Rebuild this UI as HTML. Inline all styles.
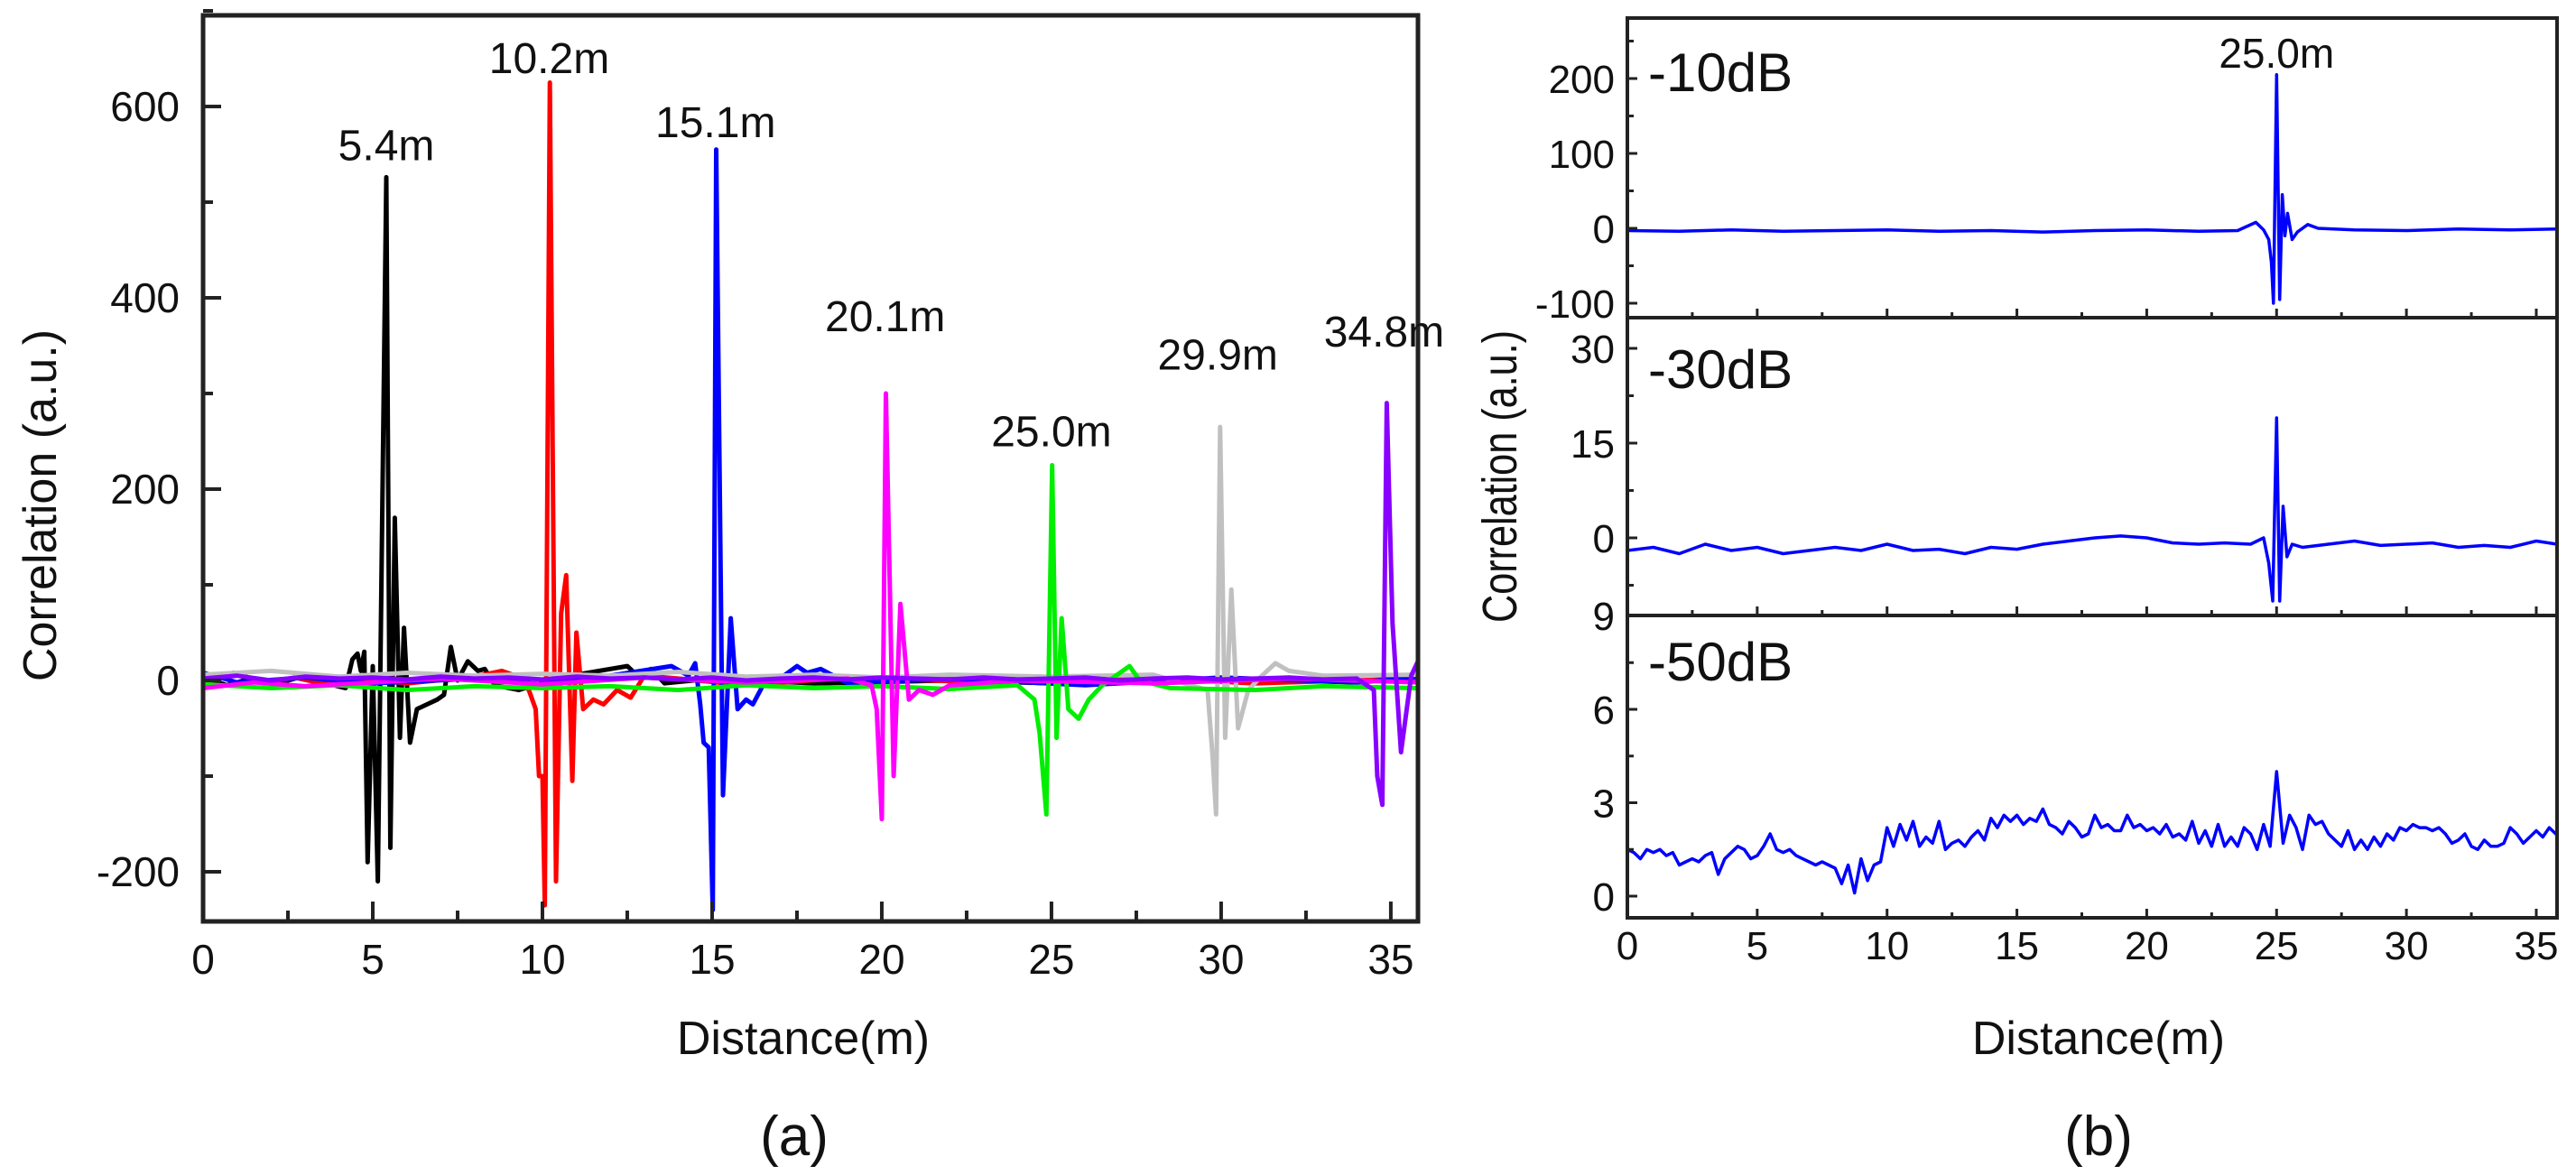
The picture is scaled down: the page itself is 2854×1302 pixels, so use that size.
<!DOCTYPE html>
<html><head><meta charset="utf-8">
<style>
html,body{margin:0;padding:0;background:#fff;}
svg{display:block;}
text{font-family:"Liberation Sans",sans-serif;fill:#111;}
</style></head>
<body>
<svg id="fig" width="2854" height="1302" viewBox="0 0 2854 1302" xmlns="http://www.w3.org/2000/svg"></svg>
<script>
// ---------- Data: panel (a) ----------
const aXTicks = [0,5,10,15,20,25,30,35];
const aYTicks = [-200,0,200,400,600];
const aPeakLabels = ["5.4m","10.2m","15.1m","20.1m","25.0m","29.9m","34.8m"];
const aPeakLabelPos = [[5.4,544],[10.2,635],[15.1,568],[20.1,365],[25.0,245],[29.9,325],[34.8,349]];
const blackSeries = [[0,4],[0.7,-5],[1.4,2],[2.1,-4],[2.8,3],[3.5,-2],[4.2,-8],[4.4,22],[4.55,28],[4.65,10],[4.75,30],[4.85,-190],[5.0,15],[5.15,-210],[5.4,526],[5.52,-175],[5.65,170],[5.8,-60],[5.92,55],[6.1,-65],[6.3,-30],[6.6,-25],[6.9,-20],[7.1,-15],[7.3,35],[7.5,0],[7.8,20],[8.1,10],[8.3,12],[8.6,-5],[9.3,-10],[10.5,3],[12.5,15],[12.8,5],[13.2,12],[13.6,-3],[15,2],[18,-3],[22,0],[26,-4],[30,2],[34,-2],[35.8,3]];
const redSeries = [[0,-3],[0.9,8],[1.8,-2],[2.7,3],[3.6,-4],[4.5,2],[6,-3],[8,4],[8.8,10],[9.2,5],[9.6,-10],[9.8,-30],[9.9,-100],[10.0,-100],[10.07,-235],[10.22,625],[10.4,-210],[10.55,70],[10.7,110],[10.88,-105],[11.0,50],[11.2,-30],[11.5,-20],[11.8,-25],[12.2,-10],[12.6,-18],[13,5],[14,2],[16,-5],[19,3],[23,-2],[27,4],[31,-3],[35.8,2]];
const blueSeries = [[0,8],[1,-2],[3,3],[5,-3],[8,2],[10,-4],[12,5],[13.8,15],[14.3,5],[14.5,18],[14.65,-25],[14.75,-65],[14.9,-70],[15.02,-240],[15.12,555],[15.32,-120],[15.55,65],[15.75,-30],[16.0,-20],[16.2,-25],[16.5,-5],[17,2],[17.5,15],[17.8,8],[18.2,12],[19,-3],[22,2],[26,-5],[30,3],[34,-2],[35.8,4]];
const magentaSeries = [[0,-8],[1.5,-2],[3,-6],[4.5,-3],[7,2],[10,-4],[13,3],[16,-2],[19,2],[19.7,-5],[19.85,-30],[20.0,-145],[20.12,300],[20.35,-100],[20.55,80],[20.8,-20],[21.1,-10],[21.5,-15],[22,-5],[24,0],[28,-3],[32,2],[35.8,-2]];
const greenSeries = [[0,-4],[2,-8],[4,-5],[6,-10],[8,-6],[10,-8],[12,-6],[14,-10],[16,-5],[18,-8],[20,-6],[22,-9],[24,-5],[24.5,-20],[24.65,-55],[24.85,-140],[25.02,225],[25.15,-60],[25.3,65],[25.5,-30],[25.8,-40],[26.1,-20],[26.5,-5],[27.3,15],[27.6,0],[28.5,-8],[31,-10],[33,-6],[35.8,-8]];
const graySeries = [[0,6],[2,10],[4,4],[6,8],[8,5],[10,7],[12,5],[14,9],[16,4],[18,6],[20,3],[22,6],[25,4],[28,6],[29.6,-10],[29.75,-80],[29.85,-140],[29.97,265],[30.12,-60],[30.3,95],[30.5,-50],[30.8,-10],[31.2,5],[31.6,18],[32,10],[33,5],[35.8,6]];
const purpleSeries = [[0,2],[1,5],[2,0],[3,4],[4,2],[5,3],[6,1],[7,4],[8,2],[9,3],[10,1],[11,4],[12,2],[13,3],[14,1],[15,3],[16,0],[17,2],[18,3],[19,1],[20,3],[21,2],[22,1],[23,3],[24,1],[25,2],[26,3],[27,0],[28,2],[29,3],[30,1],[31,2],[32,3],[33,1],[34,2],[34.5,-10],[34.6,-100],[34.75,-130],[34.88,290],[35.05,60],[35.3,-75],[35.6,5],[35.8,20]];
// ---------- Data: panel (b) ----------
const bXTicks = [0,5,10,15,20,25,30,35];
const p1YTicks = [-100,0,100,200];
const p2YTicks = [0,15,30];
const p3YTicks = [0,3,6];
const p1Series = [[0,-3],[2,-4],[4,-2],[6,-4],[8,-3],[10,-2],[12,-4],[14,-3],[16,-5],[18,-3],[20,-2],[22,-4],[23.5,-3],[24.2,8],[24.5,-2],[24.7,-15],[24.8,-45],[24.88,-100],[25.0,205],[25.12,-95],[25.22,45],[25.32,-10],[25.42,20],[25.6,-15],[25.8,-5],[26.2,5],[26.6,0],[28,-2],[30,-3],[32,-1],[34,-2],[35.8,-1]];
const p2Series = [[0,-2],[1,-1.5],[2,-2.5],[3,-1],[4,-2],[5,-1.5],[6,-2.5],[7,-2],[8,-1.5],[9,-2],[10,-1],[11,-2],[12,-1.8],[13,-2.5],[14,-1.5],[15,-1.8],[16,-1],[17,-0.5],[18,0],[19,0.3],[20,0],[21,-0.8],[22,-1],[23,-0.8],[24,-1],[24.5,0],[24.7,-4],[24.85,-10],[25.0,19],[25.12,-10],[25.25,5],[25.4,-3],[25.6,-1],[26,-1.5],[27,-1],[28,-0.5],[29,-1.2],[30,-1],[31,-0.8],[32,-1.5],[33,-1.2],[34,-1.5],[35,-0.5],[35.8,-1]];
const p3Step = 0.25;
const p3Values = [1.5,1.4,1.2,1.5,1.4,1.5,1.3,1.4,1.0,1.1,1.2,1.1,1.3,1.4,0.7,1.2,1.4,1.6,1.5,1.2,1.3,1.6,2.0,1.5,1.4,1.5,1.3,1.2,1.1,1.0,1.1,1.0,0.9,0.4,1.0,0.1,1.2,0.5,1.0,1.1,2.2,1.6,2.3,1.8,2.4,1.6,1.9,1.7,2.4,1.5,1.7,1.8,1.6,1.9,2.1,1.8,2.5,2.2,2.6,2.4,2.6,2.3,2.5,2.4,2.8,2.3,2.2,2.0,2.4,2.2,1.9,2.0,2.6,2.2,2.3,2.1,2.1,2.6,2.2,2.3,2.1,2.2,2.0,2.3,1.9,2.0,1.8,2.4,1.7,2.1,1.6,2.3,1.6,1.9,1.6,2.2,2.0,1.5,2.3,1.6,4.0,1.7,2.6,2.2,1.5,2.6,2.3,2.4,2.0,1.8,1.6,2.1,1.5,1.8,1.5,1.9,1.6,2.0,1.8,2.2,2.1,2.3,2.2,2.2,2.1,2.2,2.0,1.7,1.8,2.0,1.6,1.5,1.8,1.6,1.6,1.7,2.2,2.0,1.7,1.9,2.1,1.9,2.2,2.0,1.8,2.1];

const NS="http://www.w3.org/2000/svg";
const svg=document.getElementById('fig');
function el(tag,attrs,parent){const e=document.createElementNS(NS,tag);for(const k in attrs)e.setAttribute(k,attrs[k]);(parent||svg).appendChild(e);return e;}
function txt(s,x,y,size,anchor,parent,extra){const t=el('text',Object.assign({x:x,y:y,'font-size':size,'text-anchor':anchor||'middle'},extra||{}),parent);t.textContent=s;return t;}

// ---------- Panel (a) axes ----------
const aL=225,aR=1571,aT=17,aB=1021,aXmax=35.8,aY0=754,aPx=1.06;
const ax=v=>aL+(v/aXmax)*(aR-aL);
const ay=v=>aY0-v*aPx;
const gA=el('g',{});


const clipA=el('clipPath',{id:'clipA'});el('rect',{x:aL,y:aT,width:aR-aL,height:aB-aT},clipA);
const series=[[blackSeries,'#000000','black'],[redSeries,'#ff0000','red'],[blueSeries,'#0000ff','blue'],[graySeries,'#c0c0c0','gray'],[greenSeries,'#00ee00','green'],[magentaSeries,'#ff00ff','magenta'],[purpleSeries,'#8800ff','purple']];
const gS=el('g',{'clip-path':'url(#clipA)'},gA);
series.forEach(s=>{
  const d=s[0].map((p,i)=>(i?'L':'M')+ax(p[0]).toFixed(1)+','+ay(p[1]).toFixed(1)).join('');
  const pth=el('path',{d:d,fill:'none',stroke:s[1],'stroke-width':5,'stroke-linejoin':'round'},gS);
  
  
});
for(let v=-200;v<=700;v+=100){const major=aYTicks.includes(v);el('line',{x1:aL,x2:aL+(major?20:11),y1:ay(v),y2:ay(v),stroke:'#222','stroke-width':4},gA);}
aYTicks.forEach(v=>{const t=txt(String(v),aL-26,ay(v)+16,46,'end',gA);});
for(let v=0;v<=35;v+=2.5){const major=v%5===0;el('line',{x1:ax(v),x2:ax(v),y1:aB,y2:aB-(major?22:12),stroke:'#222','stroke-width':4},gA);}
aXTicks.forEach(v=>{const t=txt(String(v),ax(v),1079,46,'middle',gA);});
const frA=el('rect',{x:aL,y:aT,width:aR-aL,height:aB-aT,fill:'none',stroke:'#222','stroke-width':5},gA);

aPeakLabels.forEach((s,i)=>{const t=txt(s,ax(aPeakLabelPos[i][0]),ay(aPeakLabelPos[i][1]),48,'middle',gA);});
const yta=txt('Correlation (a.u.)',0,0,52,'middle',gA,{transform:'translate(62,560) rotate(-90)'});

const xta=txt('Distance(m)',890,1168,52,'middle',gA);

const capA=txt('(a)',880,1280,62,'middle',gA,{'font-family':'Liberation Serif, serif'});


// ---------- Panel (b) ----------
const bL=1803,bR=2833,bXmax=35.8;
const bx=v=>bL+(v/bXmax)*(bR-bL);
const panels=[
 {top:20,bot:352,y0:253,px:0.83,data:p1Series,ticks:p1YTicks,minor:[-50,50,150,250],label:'-10dB',ly:101,name:'subplot-minus10db'},
 {top:352,bot:682,y0:596,px:7.0,data:p2Series,ticks:p2YTicks,minor:[-7.5,7.5,22.5],label:'-30dB',ly:430,name:'subplot-minus30db'},
 {top:682,bot:1017,y0:993,px:34.5,data:null,ticks:p3YTicks,minor:[1.5,4.5,7.5],label:'-50dB',ly:754,name:'subplot-minus50db'}
];
const gB=el('g',{});


panels.forEach((p,pi)=>{
  const g=el('g',{},gB);
  
  
  const by=v=>p.y0-v*p.px;
  const cp=el('clipPath',{id:'clipB'+pi});el('rect',{x:bL,y:p.top,width:bR-bL,height:p.bot-p.top},cp);
  let pts = p.data ? p.data : p3Values.map((v,i)=>[i*p3Step,v]);
  const d=pts.map((q,i)=>(i?'L':'M')+bx(q[0]).toFixed(1)+','+by(q[1]).toFixed(1)).join('');
  const ln=el('path',{d:d,fill:'none',stroke:'#0000ff','stroke-width':3.5,'stroke-linejoin':'round','clip-path':'url(#clipB'+pi+')'},g);
  
  
  p.ticks.forEach(v=>{el('line',{x1:bL,x2:bL+11,y1:by(v),y2:by(v),stroke:'#222','stroke-width':3},g);
    const t=txt(String(v),bL-14,by(v)+16,44,'end',g);});
  p.minor.forEach(v=>{el('line',{x1:bL,x2:bL+7,y1:by(v),y2:by(v),stroke:'#222','stroke-width':3},g);});
  for(let v=0;v<=35;v+=2.5){el('line',{x1:bx(v),x2:bx(v),y1:p.bot,y2:p.bot-(v%5===0?10:6),stroke:'#222','stroke-width':3},g);}
  el('rect',{x:bL,y:p.top,width:bR-bL,height:p.bot-p.top,fill:'none',stroke:'#222','stroke-width':4},g);
  const lb=txt(p.label,1826,p.ly,60,'start',g);
});
const lb9=txt('9',bL-14,698,44,'end',gB);
bXTicks.forEach(v=>{const t=txt(String(v),bx(v),1063,44,'middle',gB);});
const pk=txt('25.0m',bx(25),75,46,'middle',gB);
const ytb=txt('Correlation (a.u.)',0,0,54,'middle',gB,{transform:'translate(1680,528) rotate(-90) scale(0.8,1)'});

const xtb=txt('Distance(m)',2325,1168,52,'middle',gB);

const capB=txt('(b)',2325,1280,62,'middle',gB,{'font-family':'Liberation Serif, serif'});

</script>
</body></html>
